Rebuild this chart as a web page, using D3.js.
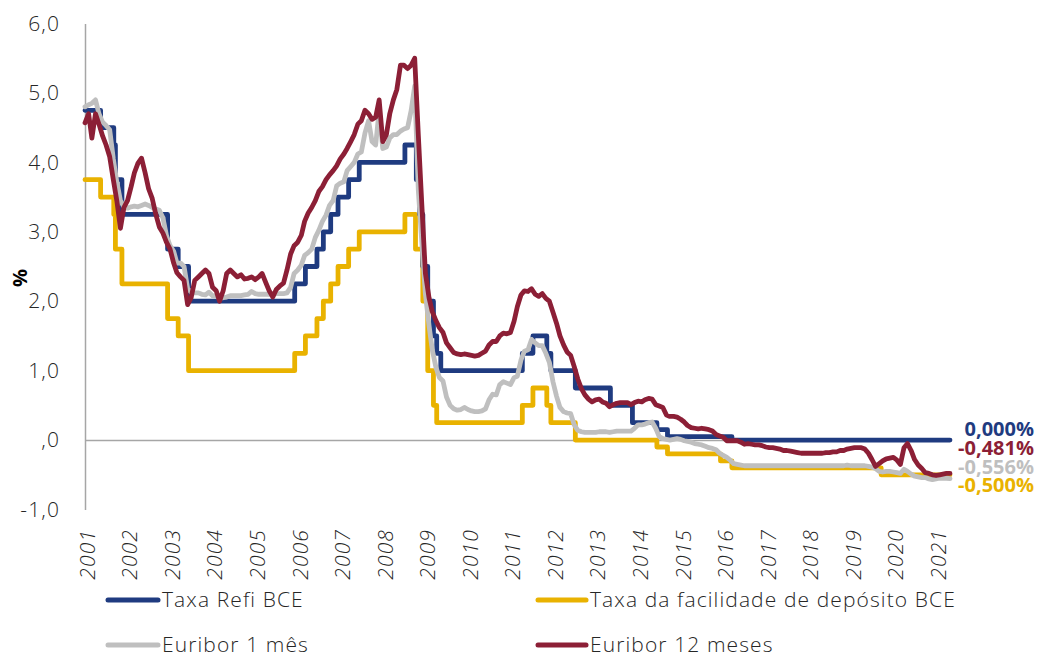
<!DOCTYPE html>
<html><head><meta charset="utf-8">
<script src="https://cdn.jsdelivr.net/npm/d3@7"></script>
<style>
body{margin:0;background:#fff;}
svg{display:block;font-family:"Open Sans",sans-serif;}
</style></head>
<body>
<svg id="c" width="1038" height="657"></svg>
<script>
// ---- data ----
const years = d3.range(2001, 2022);
const yTicks = [-1, 0, 1, 2, 3, 4, 5, 6];

// ECB main refinancing rate (change dates / values)
const refiDates = ["2001-01-01","2001-05-15","2001-09-05","2001-09-19","2001-11-14","2002-12-11","2003-03-12","2003-06-09",
 "2005-12-06","2006-03-08","2006-06-15","2006-08-09","2006-10-11","2006-12-13","2007-03-14","2007-06-13","2008-07-09",
 "2008-10-15","2008-11-12","2008-12-10","2009-01-21","2009-03-11","2009-04-08","2009-05-13","2011-04-13","2011-07-13",
 "2011-11-09","2011-12-14","2012-07-11","2013-05-08","2013-11-13","2014-06-11","2014-09-10","2016-03-16","2021-05-01"];
const refiValues = [4.75,4.50,4.25,3.75,3.25,2.75,2.50,2.00,
 2.25,2.50,2.75,3.00,3.25,3.50,3.75,4.00,4.25,
 3.75,3.25,2.50,2.00,1.50,1.25,1.00,1.25,1.50,
 1.25,1.00,0.75,0.50,0.25,0.15,0.05,0.00,0.00];

// ECB deposit facility rate
const depDates = ["2001-01-01","2001-05-15","2001-09-05","2001-09-19","2001-11-14","2002-12-11","2003-03-12","2003-06-09",
 "2005-12-06","2006-03-08","2006-06-15","2006-08-09","2006-10-11","2006-12-13","2007-03-14","2007-06-13","2008-07-09",
 "2008-10-08","2008-12-10","2009-01-21","2009-03-11","2009-04-08","2011-04-13","2011-07-13","2011-11-09","2011-12-14",
 "2012-07-11","2014-06-11","2014-09-10","2015-12-09","2016-03-16","2019-09-18","2021-05-01"];
const depValues = [3.75,3.50,3.25,2.75,2.25,1.75,1.50,1.00,
 1.25,1.50,1.75,2.00,2.25,2.50,2.75,3.00,3.25,
 2.75,2.00,1.00,0.50,0.25,0.50,0.75,0.50,0.25,
 0.00,-0.10,-0.20,-0.30,-0.40,-0.50,-0.50];

// Monthly Euribor, Jan 2001 .. May 2021
const euribor1m = [
 4.80,4.83,4.85,4.90,4.70,4.58,4.53,4.47,4.05,3.72,3.45,3.36,
 3.34,3.36,3.37,3.36,3.38,3.40,3.38,3.35,3.33,3.31,3.20,2.95,
 2.80,2.72,2.55,2.55,2.50,2.18,2.13,2.12,2.12,2.10,2.09,2.13,
 2.08,2.07,2.05,2.05,2.06,2.08,2.08,2.08,2.08,2.09,2.10,2.14,
 2.11,2.10,2.10,2.10,2.10,2.10,2.11,2.11,2.11,2.12,2.20,2.40,
 2.45,2.52,2.66,2.70,2.75,2.92,3.02,3.15,3.24,3.38,3.45,3.66,
 3.70,3.72,3.88,3.94,4.00,4.12,4.15,4.42,4.60,4.30,4.25,4.75,
 4.20,4.22,4.35,4.40,4.40,4.45,4.48,4.50,4.75,5.10,3.60,2.85,
 2.10,1.65,1.30,1.05,0.90,0.85,0.62,0.50,0.45,0.43,0.44,0.47,
 0.44,0.42,0.41,0.41,0.42,0.45,0.58,0.66,0.65,0.80,0.84,0.82,
 0.80,0.90,0.92,1.15,1.28,1.30,1.45,1.40,1.36,1.36,1.25,1.12,
 0.84,0.63,0.47,0.41,0.39,0.38,0.22,0.14,0.12,0.11,0.11,0.11,
 0.11,0.12,0.12,0.12,0.11,0.12,0.13,0.13,0.13,0.13,0.13,0.17,
 0.22,0.22,0.23,0.25,0.26,0.17,0.05,0.02,0.01,0.00,0.01,0.02,
 0.01,-0.01,-0.02,-0.03,-0.05,-0.06,-0.07,-0.09,-0.11,-0.12,-0.14,-0.19,
 -0.22,-0.25,-0.29,-0.34,-0.35,-0.36,-0.37,-0.37,-0.37,-0.37,-0.37,-0.37,
 -0.37,-0.37,-0.37,-0.37,-0.37,-0.37,-0.37,-0.37,-0.37,-0.37,-0.37,-0.37,
 -0.37,-0.37,-0.37,-0.37,-0.37,-0.37,-0.37,-0.37,-0.37,-0.37,-0.37,-0.36,
 -0.37,-0.37,-0.37,-0.37,-0.37,-0.38,-0.39,-0.41,-0.45,-0.46,-0.45,-0.45,
 -0.46,-0.47,-0.48,-0.42,-0.45,-0.49,-0.52,-0.53,-0.54,-0.54,-0.56,-0.57,
 -0.56,-0.55,-0.55,-0.55,-0.556];
const euribor12m = [
 4.57,4.70,4.35,4.70,4.55,4.38,4.25,4.08,3.75,3.45,3.05,3.35,
 3.45,3.65,3.85,3.99,4.06,3.85,3.62,3.48,3.25,3.07,2.98,2.85,
 2.75,2.55,2.41,2.35,2.30,1.95,2.05,2.30,2.35,2.40,2.45,2.40,
 2.20,2.15,2.00,2.15,2.40,2.45,2.40,2.35,2.38,2.32,2.33,2.35,
 2.31,2.35,2.40,2.27,2.15,2.06,2.17,2.22,2.26,2.45,2.68,2.80,
 2.85,2.95,3.15,3.27,3.35,3.45,3.58,3.65,3.75,3.82,3.88,3.95,
 4.05,4.12,4.20,4.30,4.40,4.55,4.60,4.75,4.70,4.62,4.65,4.90,
 4.30,4.40,4.70,4.90,5.05,5.40,5.40,5.35,5.40,5.50,4.40,3.40,
 2.40,2.05,1.85,1.72,1.62,1.55,1.40,1.33,1.26,1.24,1.23,1.24,
 1.23,1.22,1.21,1.22,1.25,1.28,1.37,1.42,1.42,1.50,1.54,1.53,
 1.55,1.71,1.92,2.09,2.15,2.14,2.18,2.10,2.07,2.11,2.04,2.00,
 1.84,1.68,1.50,1.37,1.27,1.22,1.06,0.88,0.74,0.65,0.59,0.55,
 0.58,0.59,0.55,0.53,0.48,0.51,0.53,0.54,0.54,0.54,0.51,0.54,
 0.56,0.55,0.58,0.60,0.59,0.51,0.49,0.47,0.36,0.34,0.34,0.33,
 0.30,0.26,0.21,0.18,0.17,0.16,0.17,0.16,0.15,0.13,0.08,0.06,
 0.04,-0.01,-0.01,-0.01,-0.01,-0.03,-0.06,-0.05,-0.06,-0.07,-0.07,-0.08,
 -0.10,-0.11,-0.11,-0.12,-0.13,-0.15,-0.15,-0.16,-0.17,-0.18,-0.19,-0.19,
 -0.19,-0.19,-0.19,-0.19,-0.19,-0.18,-0.18,-0.17,-0.17,-0.15,-0.15,-0.13,
 -0.12,-0.11,-0.11,-0.11,-0.13,-0.19,-0.28,-0.38,-0.34,-0.30,-0.27,-0.26,
 -0.25,-0.29,-0.35,-0.11,-0.05,-0.15,-0.28,-0.36,-0.41,-0.47,-0.48,-0.50,
 -0.51,-0.50,-0.49,-0.48,-0.481];

const seriesNames = ["Taxa Refi BCE","Taxa da facilidade de depósito BCE","Euribor 1 mês","Euribor 12 meses"];
const seriesColors = ["#1f3b80","#e9b200","#bfbfbf","#8c1f36"];
const endLabels = ["0,000%","-0,481%","-0,556%","-0,500%"];
const endLabelColors = ["#1f3b80","#8c1f36","#bfbfbf","#e9b200"];

// ---- chart ----
const svg = d3.select("#c");
const parse = d3.timeParse("%Y-%m-%d");
const months = d3.timeMonth.range(new Date(2001,0,1), new Date(2021,5,1));

const x = d3.scaleTime().domain([new Date(2001,0,1), new Date(2021,4,1)]).range([85, 950]);
const y = d3.scaleLinear().domain([-1, 6]).range([509.5, 23.5]);

const FONT = 21, LS = 1.1;

// y axis
const fmt = d => d === 0 ? ",0" : (d < 0 ? "-" : "") + Math.abs(d).toFixed(1).replace(".", ",");
const ya = svg.append("g").attr("transform","translate(85,0)")
  .call(d3.axisLeft(y).tickValues(yTicks).tickSize(0).tickSizeOuter(0).tickPadding(25).tickFormat(fmt));
ya.select(".domain").attr("stroke","#a6a6a6").attr("stroke-width",1.5);
ya.selectAll("text").attr("font-size",FONT).attr("font-weight",300).attr("letter-spacing",LS)
  .attr("fill","#262626").attr("font-family","Open Sans");

// x axis at zero, labels low
const y0 = y(0);
const xa = svg.append("g").attr("transform",`translate(0,${y0})`)
  .call(d3.axisBottom(x).tickValues(years.map(v => new Date(v,0,1))).tickSize(0).tickSizeOuter(0)
    .tickFormat(d3.timeFormat("%Y")));
xa.select(".domain").attr("stroke","#a6a6a6").attr("stroke-width",1.5);
xa.selectAll("text")
  .attr("font-size",FONT).attr("font-weight",300).attr("letter-spacing",LS)
  .attr("fill","#262626").attr("font-style","italic").attr("font-family","Open Sans")
  .attr("text-anchor","end").attr("y",0).attr("dy","0.35em")
  .attr("transform",`translate(2,${529 - y0}) rotate(-90)`);

// "%" label
svg.append("text").attr("transform","translate(20,278) rotate(-90)")
  .attr("text-anchor","middle").attr("dy","0.35em").attr("font-size",20).attr("font-weight","bold").attr("fill","#000")
  .text("%");

const stepLine = d3.line().x(d => x(d[0])).y(d => y(d[1])).curve(d3.curveStepAfter);
const line = d3.line().x(d => x(d[0])).y(d => y(d[1]));

const refi = refiDates.map((d,i) => [parse(d), refiValues[i]]);
const dep = depDates.map((d,i) => [parse(d), depValues[i]]);
const e1 = months.map((m,i) => [m, euribor1m[i]]);
const e12 = months.map((m,i) => [m, euribor12m[i]]);

const g = svg.append("g").attr("fill","none").attr("stroke-width",4.8)
  .attr("stroke-linejoin","round").attr("stroke-linecap","round");
g.append("path").attr("d", stepLine(dep)).attr("stroke", seriesColors[1]);
g.append("path").attr("d", stepLine(refi)).attr("stroke", seriesColors[0]);
g.append("path").attr("d", line(e1)).attr("stroke", seriesColors[2]);
g.append("path").attr("d", line(e12)).attr("stroke", seriesColors[3]);

// end labels
const endY = [429, 448, 467, 485];
svg.append("g").selectAll("text").data(endLabels).join("text")
  .attr("x", 1034).attr("y", (d,i) => endY[i]).attr("dy","0.35em").attr("text-anchor","end")
  .attr("font-size",20).attr("font-weight","bold").attr("fill",(d,i) => endLabelColors[i])
  .text(d => d);

// legend
const legPos = [[108,600],[538,600],[108,645],[538,645]];
const leg = svg.append("g").selectAll("g").data(seriesNames).join("g")
  .attr("transform",(d,i) => `translate(${legPos[i][0]},${legPos[i][1]})`);
leg.append("line").attr("x1",0).attr("x2",(d,i)=> i%2===0 ? 50 : 48).attr("y1",0).attr("y2",0)
  .attr("stroke",(d,i)=>seriesColors[i]).attr("stroke-width",5).attr("stroke-linecap","round");
leg.append("text").attr("x",(d,i)=> i%2===0 ? 54 : 52).attr("dy","0.35em")
  .attr("font-size",FONT).attr("font-weight",300).attr("letter-spacing",LS)
  .attr("fill","#262626").text(d => d);
</script>
</body></html>
